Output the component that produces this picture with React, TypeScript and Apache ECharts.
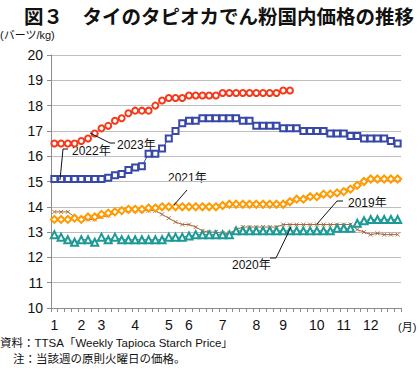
import React, { useEffect, useRef } from 'react';
import * as echarts from 'echarts';

// 52 weekly categories (Jan week 1 ... Dec week 52)
const weeks: string[] = [
  'w1','w2','w3','w4','w5','w6','w7','w8','w9','w10','w11','w12','w13','w14','w15','w16','w17','w18','w19','w20',
  'w21','w22','w23','w24','w25','w26','w27','w28','w29','w30','w31','w32','w33','w34','w35','w36','w37','w38','w39','w40',
  'w41','w42','w43','w44','w45','w46','w47','w48','w49','w50','w51','w52',
];
const monthLabels = ['1','2','3','4','5','6','7','8','9','10','11','12'];
const monthStartWeeks = [0, 4, 7, 12, 17, 20, 25, 30, 34, 39, 43, 47];

const yTicks = { min: 10, max: 20, step: 1 };

const y2019 = [13.8,13.8,13.8,13.6,13.5,13.5,13.5,13.6,13.65,13.75,13.85,13.85,13.85,13.85,13.85,13.85,13.7,13.55,13.4,13.3,13.3,13.2,13.05,13.0,13.0,12.95,12.95,13.1,13.2,13.2,13.2,13.2,13.2,13.2,13.3,13.3,13.3,13.3,13.3,13.3,13.3,13.3,13.3,13.3,13.3,13.1,13.0,12.9,12.95,12.9,12.9,12.9];
const y2020 = [12.9,12.8,12.7,12.6,12.7,12.7,12.6,12.8,12.7,12.8,12.7,12.7,12.7,12.7,12.7,12.7,12.7,12.8,12.8,12.8,12.85,12.9,12.9,12.9,12.9,12.9,12.9,13.05,13.05,13.05,13.05,13.05,13.05,13.05,13.05,13.05,13.05,13.05,13.05,13.05,13.05,13.05,13.15,13.15,13.15,13.35,13.45,13.5,13.5,13.5,13.5,13.5];
const y2021 = [13.5,13.5,13.5,13.55,13.5,13.6,13.6,13.7,13.75,13.8,13.85,13.9,13.9,13.9,13.95,13.95,14.0,14.0,14.0,14.0,14.0,14.0,14.0,14.0,14.0,14.05,14.1,14.1,14.1,14.1,14.1,14.1,14.1,14.1,14.1,14.2,14.3,14.3,14.4,14.4,14.5,14.5,14.55,14.6,14.7,14.85,15.0,15.1,15.1,15.1,15.1,15.1];
const y2022 = [15.1,15.1,15.1,15.1,15.1,15.1,15.1,15.1,15.15,15.25,15.3,15.45,15.55,15.6,16.1,16.1,16.3,16.7,17.0,17.3,17.4,17.4,17.5,17.5,17.5,17.5,17.5,17.5,17.4,17.4,17.2,17.2,17.2,17.2,17.1,17.1,17.1,17.0,17.0,17.0,17.0,16.9,16.9,16.9,16.8,16.8,16.7,16.7,16.7,16.7,16.6,16.5];
const y2023 = [16.5,16.5,16.5,16.5,16.6,16.7,16.9,17.1,17.2,17.4,17.5,17.7,17.8,17.8,17.8,18.0,18.2,18.3,18.3,18.3,18.4,18.4,18.4,18.4,18.4,18.5,18.5,18.5,18.5,18.5,18.5,18.5,18.5,18.5,18.6,18.6];

const seriesNames = ['2019年', '2020年', '2021年', '2022年', '2023年'];

const FONT = "'Liberation Sans', 'Noto Sans CJK JP', sans-serif";
const JP = "'Noto Sans CJK JP', sans-serif";

const RED = '#F5391A';
const BLUE = '#3848A8';
const ORANGE = '#FF9A00';
const BROWN = '#A8683A';
const TEAL = '#1E9A96';

export default function App() {
  const ref = useRef<HTMLDivElement>(null);
  useEffect(() => {
    document.body.style.margin = '0';
    if (!ref.current) return;
    const chart = echarts.init(ref.current, undefined, { renderer: 'svg' });
    const labelMap: Record<number, string> = {};
    monthStartWeeks.forEach((w, i) => { labelMap[w] = monthLabels[i]; });

    const mk = (name: string, data: number[], color: string, symbol: string, size: number, z: number) => ({
      name, type: 'line', data, symbol, symbolSize: size, showAllSymbol: true,
      lineStyle: { color, width: 1 },
      itemStyle: { color, borderColor: color, borderWidth: 0.9 },
      z,
    });

    const text = (t: string, x: number, y: number, size = 12, family = FONT) => ({
      type: 'text', x, y,
      style: { text: t, fill: '#111', fontSize: size, fontFamily: family, textAlign: 'left', textVerticalAlign: 'middle' },
    });
    const leader = (pts: number[][]) => ({
      type: 'polyline', shape: { points: pts }, style: { stroke: '#111', lineWidth: 1, fill: 'none' }, z: 100,
    });

    chart.setOption({
      animation: false,
      backgroundColor: '#fff',
      title: {
        text: '図３　タイのタピオカでん粉国内価格の推移',
        left: 19, top: 1,
        textStyle: { fontSize: 19.5, fontWeight: 'bold', fontFamily: JP, color: '#111' },
      },
      grid: { left: 51, right: 19, top: 55, bottom: 66, containLabel: false, outerBoundsMode: 'none' },
      xAxis: {
        type: 'category', data: weeks, boundaryGap: true,
        axisLine: { lineStyle: { color: '#8c8c8c', width: 1 } },
        axisTick: { show: true, interval: 0, length: 4, lineStyle: { color: '#8c8c8c' } },
        axisLabel: {
          interval: 0, margin: 10, fontSize: 14, color: '#111', fontFamily: FONT,
          formatter: (_v: string, i: number) => labelMap[i] ?? '',
        },
        splitLine: { show: false },
      },
      yAxis: {
        type: 'value', min: yTicks.min, max: yTicks.max, interval: yTicks.step,
        axisLine: { show: true, lineStyle: { color: '#8c8c8c' } },
        axisTick: { show: true, length: 4, lineStyle: { color: '#8c8c8c' } },
        axisLabel: { margin: 8, fontSize: 14, color: '#111', fontFamily: FONT },
        splitLine: { lineStyle: { color: '#bdbdbd', width: 1 } },
      },
      series: [
        mk(seriesNames[0], y2019, BROWN, 'path://M0,0L10,10M10,0L0,10', 4, 2),
        mk(seriesNames[1], y2020, TEAL, 'emptyTriangle', 7, 3),
        mk(seriesNames[2], y2021, ORANGE, 'emptyDiamond', 7, 4),
        mk(seriesNames[3], y2022, BLUE, 'emptyRect', 6, 5),
        mk(seriesNames[4], y2023, RED, 'emptyCircle', 6, 6),
      ],
      graphic: [
        text('(バーツ/kg)', 0, 34.5, 11, FONT),
        text('(月)', 398, 327, 11, FONT),
        text('資料：TTSA「Weekly Tapioca Starch Price」', 0, 343, 11.5, FONT),
        text('注：当該週の原則火曜日の価格。', 13, 359, 11.5, FONT),
        text(seriesNames[3], 72, 151, 12),
        leader([[60, 180], [63, 149], [68, 149]]),
        text(seriesNames[4], 117, 145, 12),
        leader([[90, 133], [110, 143], [115, 143]]),
        text(seriesNames[2], 168, 178, 12),
        leader([[187, 190], [174, 205]]),
        text(seriesNames[0], 348, 203, 12),
        leader([[343, 201], [337, 201], [317, 224]]),
        text(seriesNames[1], 232, 265, 12),
        leader([[291, 227], [276, 258], [270, 258]]),
      ],
    });
    return () => chart.dispose();
  }, []);
  return <div ref={ref} style={{ width: 420, height: 374 }} />;
}
